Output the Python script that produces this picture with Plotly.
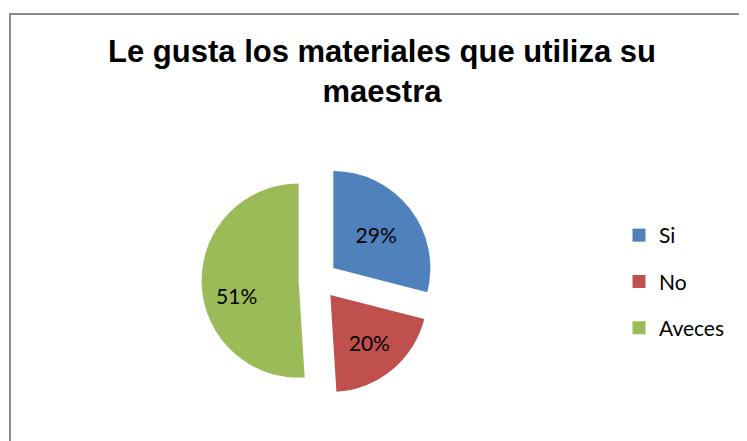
import plotly.graph_objects as go

# ==============================
# Data
# ==============================
labels = ["Si", "No", "Aveces"]
values = [29, 20, 51]
colors = ["#4F81BD", "#C0504D", "#9BBB59"]

# page body has an 8px margin, so the figure is a bit smaller than the window
OFF = 8
W, H = 747 - OFF, 441 - OFF


def px_x(x):
    # screen pixel -> paper fraction
    return (x - OFF) / W


def px_y(y):
    return 1 - (y - OFF) / H


# ==============================
# Pie geometry (screen pixels)
# ==============================
cx, cy = 318, 280
r = 97
pull = 0.2
half = r * (1 + pull)

# big slice label sits lower and further left in the original
NB = "\u00a0"
label_fmt = ["%{percent:.0%}", "%{percent:.0%}",
             NB + "<br>%{percent:.0%}" + NB * 5]

fig = go.Figure()

# pie itself (legend comes from dummy traces so the item spacing can be set)
fig.add_trace(go.Pie(
    labels=labels,
    values=values,
    marker=dict(colors=colors, line=dict(width=0)),
    sort=False,
    direction="clockwise",
    rotation=0,
    pull=[pull] * len(values),
    textinfo="percent",
    textposition="inside",
    insidetextorientation="horizontal",
    texttemplate=label_fmt,
    textfont=dict(family="Lato", size=21, color="#000000"),
    domain=dict(x=[px_x(cx - half), px_x(cx + half)],
                y=[px_y(cy + half), px_y(cy - half)]),
    showlegend=False,
    hoverinfo="label+percent",
))

# legend entries
for lab, col in zip(labels, colors):
    fig.add_trace(go.Scatter(
        x=[None], y=[None],
        mode="markers",
        name=lab,
        legendgroup=lab,
        marker=dict(symbol="square", size=13, color=col),
        showlegend=True,
    ))

fig.update_layout(
    width=W,
    height=H,
    margin=dict(l=0, r=0, t=0, b=0),
    paper_bgcolor="white",
    plot_bgcolor="white",
    xaxis=dict(visible=False),
    yaxis=dict(visible=False),
    title=dict(
        text="Le gusta los materiales que utiliza su<br>maestra",
        x=px_x(382),
        xanchor="center",
        y=px_y(62),
        yanchor="top",
        font=dict(family="Liberation Sans", size=31, color="#000000", weight="bold"),
    ),
    legend=dict(
        x=px_x(619),
        xanchor="left",
        y=px_y(281.5),
        yanchor="middle",
        font=dict(family="Lato", size=21, color="#000000"),
        tracegroupgap=16,
        itemsizing="trace",
        bgcolor="rgba(0,0,0,0)",
    ),
    shapes=[
        dict(type="rect", xref="paper", yref="paper",
             x0=px_x(10), x1=1.05, y0=-0.05, y1=px_y(14),
             line=dict(color="#8C8C8C", width=2), fillcolor="rgba(0,0,0,0)"),
    ],
)

fig.write_html("out.html")
